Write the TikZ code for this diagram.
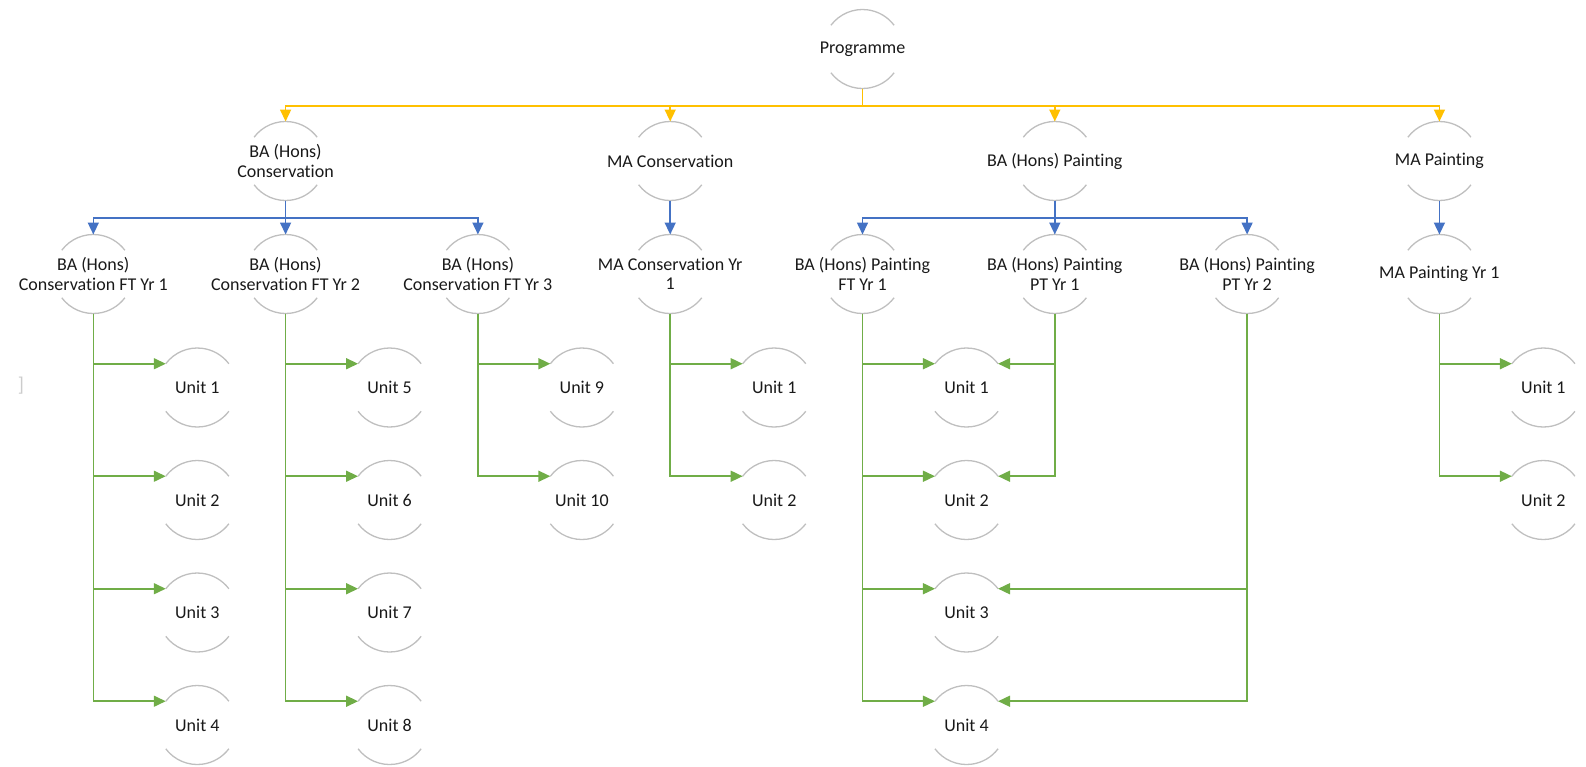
\documentclass[tikz,border=0pt]{standalone}
\usepackage{fontspec}
\setmainfont{Carlito}[Ligatures={NoCommon,NoRare,NoContextual}]
\usetikzlibrary{arrows.meta}
\definecolor{progyellow}{HTML}{FFC000}
\definecolor{courseblue}{HTML}{4472C4}
\definecolor{unitgreen}{HTML}{70AD47}
\definecolor{rimgray}{HTML}{BFBFBF}
\tikzset{
  ring/.style={circle, minimum size=79pt, inner sep=0pt, outer sep=0pt},
  every label/.style={font=\fontsize{18}{19.5}\selectfont, align=center, text=black!90},
  rim/.style={draw=rimgray, line width=1.3pt},
  arrowed/.style={-{Triangle[length=12pt,width=11pt]}, line width=1.6pt},
  yel/.style={arrowed, draw=progyellow},
  blu/.style={arrowed, draw=courseblue},
  grn/.style={arrowed, draw=unitgreen},
}
\begin{document}
\begin{tikzpicture}[x=1pt,y=1pt]
	\useasboundingbox (0,0) rectangle (1586,-766);
	% top
	\node[ring, label=center:Programme] (prog) at (862.5,-49) {};
	% programmes
	\node[ring, label={center:BA (Hons)\\Conservation}] (bacons) at (285.6,-161) {};
	\node[ring, label=center:MA Conservation] (macons) at (670.2,-161) {};
	\node[ring, label={center:BA (Hons) Painting}] (bapaint) at (1054.8,-161) {};
	\node[ring, label=center:MA Painting] (mapaint) at (1439.4,-161) {};
	% years
	\node[ring, label={center:BA (Hons)\\Conservation FT Yr 1}] (consft1) at (93.3,-274) {};
	\node[ring, label={center:BA (Hons)\\Conservation FT Yr 2}] (consft2) at (285.6,-274) {};
	\node[ring, label={center:BA (Hons)\\Conservation FT Yr 3}] (consft3) at (477.9,-274) {};
	\node[ring, label={center:MA Conservation Yr\\1}] (maconsyr1) at (670.2,-274) {};
	\node[ring, label={center:BA (Hons) Painting\\FT Yr 1}] (paintft1) at (862.5,-274) {};
	\node[ring, label={center:BA (Hons) Painting\\PT Yr 1}] (paintpt1) at (1054.8,-274) {};
	\node[ring, label={center:BA (Hons) Painting\\PT Yr 2}] (paintpt2) at (1247.1,-274) {};
	\node[ring, label={center:MA Painting Yr 1}] (mapaintyr1) at (1439.4,-274) {};
	% units
	\foreach \k in {1,...,4}
		\node[ring, label=center:Unit \k] (c\k) at (197.3,{-387.5-112.5*(\k-1)}) {};
	\foreach \k in {5,...,8}
		\node[ring, label=center:Unit \k] (c\k) at (389.6,{-387.5-112.5*(\k-5)}) {};
	\foreach \k in {9,10}
		\node[ring, label=center:Unit \k] (c\k) at (581.9,{-387.5-112.5*(\k-9)}) {};
	\foreach \k in {1,2}
		\node[ring, label=center:Unit \k] (mc\k) at (774.2,{-387.5-112.5*(\k-1)}) {};
	\foreach \k in {1,...,4}
		\node[ring, label=center:Unit \k] (p\k) at (966.5,{-387.5-112.5*(\k-1)}) {};
	\foreach \k in {1,2}
		\node[ring, label=center:Unit \k] (mp\k) at (1543.4,{-387.5-112.5*(\k-1)}) {};
	\node[text=gray!40, font=\fontsize{20}{20}\selectfont] (caret) at (21,-386) {]};
	% rims
	\foreach \n in {prog,bacons,macons,bapaint,mapaint,consft1,consft2,consft3,maconsyr1,paintft1,paintpt1,paintpt2,mapaintyr1,c1,c2,c3,c4,c5,c6,c7,c8,c9,c10,mc1,mc2,p1,p2,p3,p4,mp1,mp2}
		\draw[rim] (\n.143) arc[start angle=143,end angle=37,radius=39.5pt]
			(\n.217) arc[start angle=217,end angle=323,radius=39.5pt];
	% connectors
	\foreach \dst in {bacons,macons,bapaint,mapaint}
		\draw[yel] (prog.south) -- ++(0,-17.5) -| (\dst.north);
	\foreach \src/\dst in {bacons/consft1,bacons/consft2,bacons/consft3,macons/maconsyr1,bapaint/paintft1,bapaint/paintpt1,bapaint/paintpt2,mapaint/mapaintyr1}
		\draw[blu] (\src.south) -- ++(0,-17.5) -| (\dst.north);
	\foreach \src/\dst in {consft1/c1,consft1/c2,consft1/c3,consft1/c4,consft2/c5,consft2/c6,consft2/c7,consft2/c8,consft3/c9,consft3/c10,maconsyr1/mc1,maconsyr1/mc2,paintft1/p1,paintft1/p2,paintft1/p3,paintft1/p4,mapaintyr1/mp1,mapaintyr1/mp2}
		\draw[grn] (\src.south) |- (\dst.143);
	\foreach \src/\dst in {paintpt1/p1,paintpt1/p2,paintpt2/p3,paintpt2/p4}
		\draw[grn] (\src.south) |- (\dst.37);
\end{tikzpicture}
\end{document}
